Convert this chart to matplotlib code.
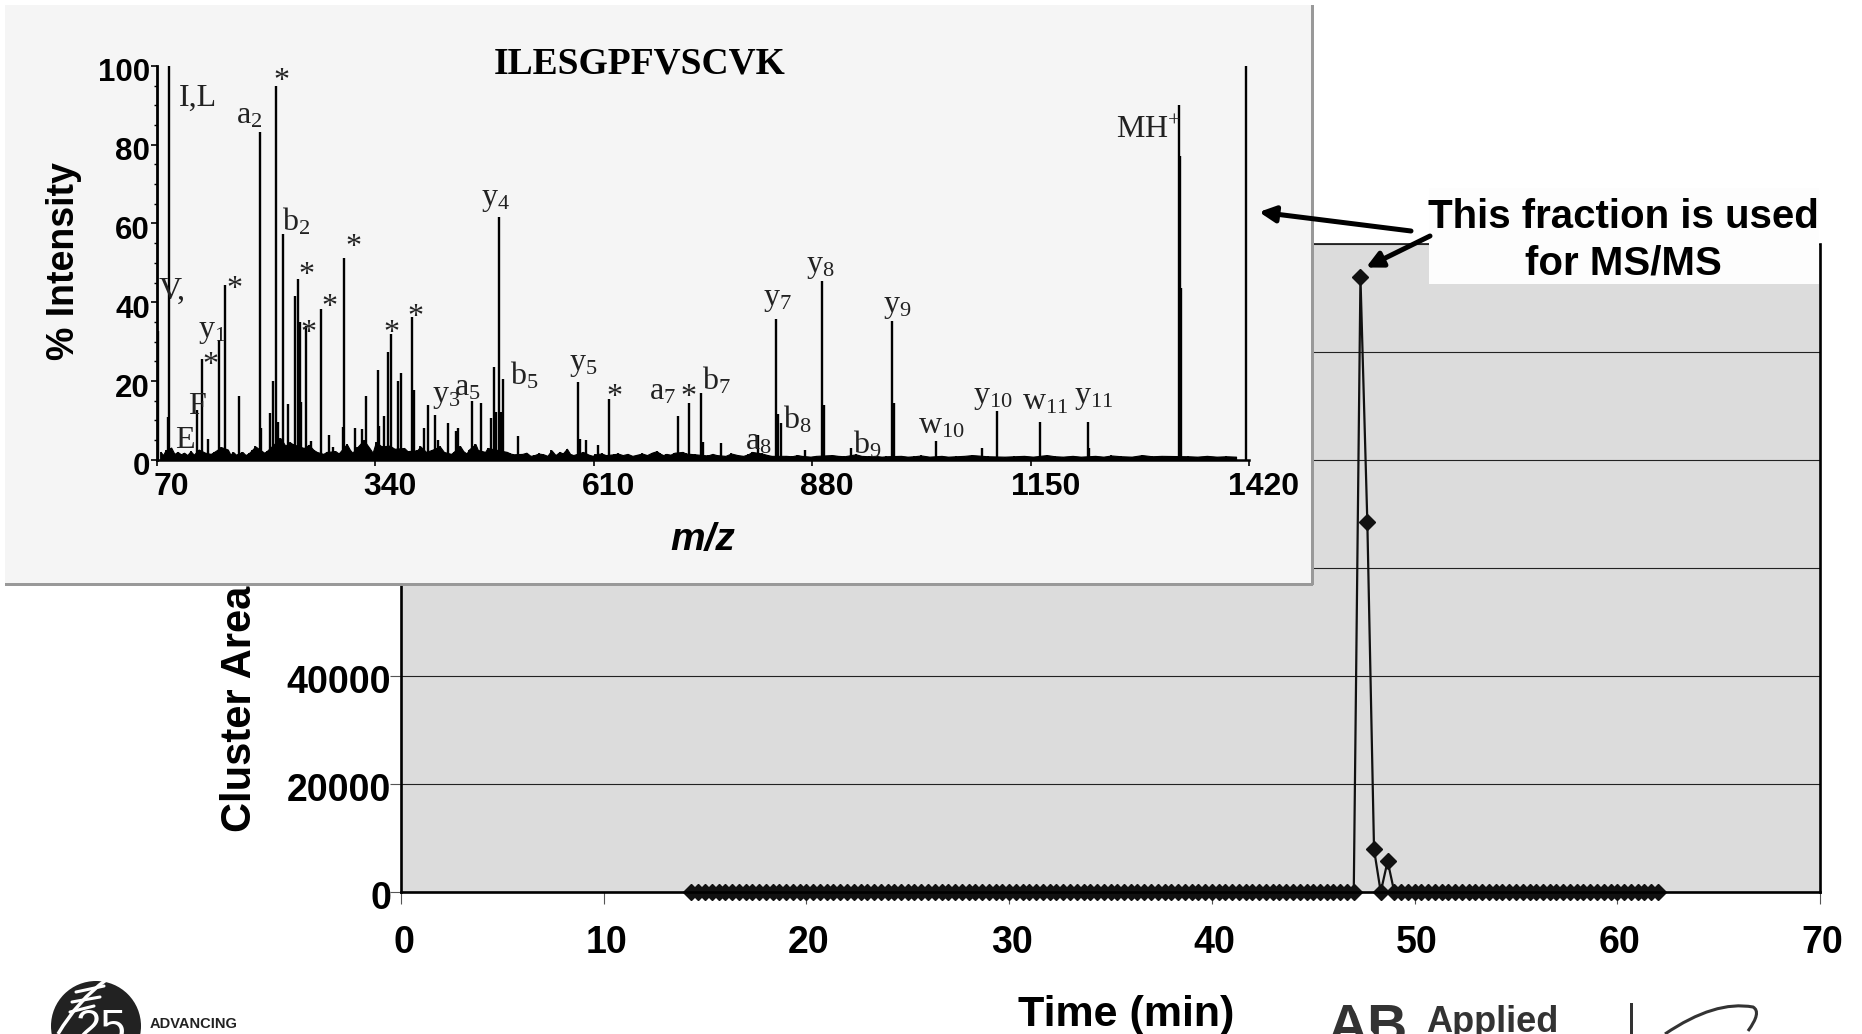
import matplotlib
matplotlib.use('Agg')
import matplotlib.pyplot as plt
from matplotlib.patches import Rectangle, Circle, FancyArrowPatch, PathPatch
from matplotlib.path import Path
from matplotlib.transforms import Affine2D, ScaledTranslation

plt.rcParams['font.family'] = ['Liberation Sans', 'DejaVu Sans']
plt.rcParams['mathtext.fontset'] = 'custom'
plt.rcParams['mathtext.rm'] = 'Liberation Serif'
plt.rcParams['mathtext.default'] = 'rm'

W, H = 1862, 1034

# main chart: cluster area against time
time_min = [14.33, 14.67, 15.0, 15.33, 15.67, 16.0, 16.33, 16.67, 17.0, 17.33, 17.67, 18.0,
            18.33, 18.67, 19.0, 19.33, 19.67, 20.0, 20.33, 20.67, 21.0, 21.33, 21.67, 22.0,
            22.33, 22.67, 23.0, 23.33, 23.67, 24.0, 24.33, 24.67, 25.0, 25.33, 25.67, 26.0,
            26.33, 26.67, 27.0, 27.33, 27.67, 28.0, 28.33, 28.67, 29.0, 29.33, 29.67, 30.0,
            30.33, 30.67, 31.0, 31.33, 31.67, 32.0, 32.33, 32.67, 33.0, 33.33, 33.67, 34.0,
            34.33, 34.67, 35.0, 35.33, 35.67, 36.0, 36.33, 36.67, 37.0, 37.33, 37.67, 38.0,
            38.33, 38.67, 39.0, 39.33, 39.67, 40.0, 40.33, 40.67, 41.0, 41.33, 41.67, 42.0,
            42.33, 42.67, 43.0, 43.33, 43.67, 44.0, 44.33, 44.67, 45.0, 45.33, 45.67, 46.0,
            46.33, 46.67, 47.0, 47.33, 47.67, 48.0, 48.33, 48.67, 49.0, 49.33, 49.67, 50.0,
            50.33, 50.67, 51.0, 51.33, 51.67, 52.0, 52.33, 52.67, 53.0, 53.33, 53.67, 54.0,
            54.33, 54.67, 55.0, 55.33, 55.67, 56.0, 56.33, 56.67, 57.0, 57.33, 57.67, 58.0,
            58.33, 58.67, 59.0, 59.33, 59.67, 60.0, 60.33, 60.67, 61.0, 61.33, 61.67, 62.0]
cluster_area = [0, 0, 0, 0, 0, 0, 0, 0, 0, 0, 0, 0,
                0, 0, 0, 0, 0, 0, 0, 0, 0, 0, 0, 0,
                0, 0, 0, 0, 0, 0, 0, 0, 0, 0, 0, 0,
                0, 0, 0, 0, 0, 0, 0, 0, 0, 0, 0, 0,
                0, 0, 0, 0, 0, 0, 0, 0, 0, 0, 0, 0,
                0, 0, 0, 0, 0, 0, 0, 0, 0, 0, 0, 0,
                0, 0, 0, 0, 0, 0, 0, 0, 0, 0, 0, 0,
                0, 0, 0, 0, 0, 0, 0, 0, 0, 0, 0, 0,
                0, 0, 0, 113750, 68400, 7900, 0, 5700, 0, 0, 0, 0,
                0, 0, 0, 0, 0, 0, 0, 0, 0, 0, 0, 0,
                0, 0, 0, 0, 0, 0, 0, 0, 0, 0, 0, 0,
                0, 0, 0, 0, 0, 0, 0, 0, 0, 0, 0, 0]
main_xticks = [0, 10, 20, 30, 40, 50, 60, 70]
main_yticks = [0, 20000, 40000, 60000, 80000, 100000, 120000]

# inset: MS/MS spectrum, main peaks
peak_mz = [71.5, 83.5, 85.6, 119.4, 126.7, 133, 146.5, 154.8, 172, 198, 199.5, 210, 213.5, 217.2,
           220.3, 226.5, 232.3, 241.6, 244.2, 246.8, 249, 255, 261.4, 272.8, 283.2, 288, 300.5, 301,
           315.5, 323.8, 329, 343.6, 344.5, 351.4, 355.5, 360.2, 368, 372.2, 386.2, 388.3, 400, 406,
           414.3, 417.4, 430, 440, 441.9, 460, 470.5, 483, 487, 489.2, 493.4, 495.5, 498.6, 516.8,
           591.1, 593.2, 600.5, 615, 629.1, 714.6, 728.5, 742.4, 745, 767, 813, 835.1, 837.8, 842.1,
           871, 892.5, 895.2, 928.4, 979.3, 981.4, 1033.4, 1089.7, 1109, 1161.5, 1221.5, 1222.6,
           1334, 1335, 1336.2, 1416.6]
peak_int = [32.7, 10.9, 100, 12.6, 25.5, 5.4, 30.3, 44.4, 16.1, 83.3, 8, 11.8, 20, 95,
            9.5, 57.3, 14.2, 41.5, 46, 35, 14.7, 34, 4.7, 38.4, 6.3, 3.2, 8.3, 51.2,
            8, 7.7, 16.1, 22.9, 8.5, 11.2, 27.4, 31.9, 20, 22, 36.2, 17.6, 8, 13.8,
            11.4, 5, 9.3, 7.4, 8, 14.8, 14.3, 10.5, 23.5, 12.1, 61.7, 12.1, 20.4, 6.1,
            19.7, 5.4, 5, 3.8, 15.5, 11.2, 14.5, 16.9, 4.5, 4.2, 6.4, 35.8, 11.7, 9.3,
            2.4, 45.4, 14, 2.9, 35.2, 14.5, 4.7, 2.9, 12.4, 9.5, 9.7, 3,
            90, 77, 43.6, 100]

# low level peaks along the baseline
grass_mz = [75, 78, 81, 88, 92, 96, 100, 104, 108, 112, 116, 122, 130, 137, 141, 150, 158, 161, 165,
            168, 176, 180, 184, 188, 192, 203, 206, 223, 229, 235, 238, 252, 258, 264, 268, 276,
            280, 291, 295, 305, 309, 312, 318, 326, 333, 337, 341, 348, 358, 364, 376, 380, 392,
            396, 403, 410, 420, 425, 434, 437, 445, 449, 453, 456, 464, 467, 476, 479, 503, 507,
            511, 522, 527, 532, 537, 542, 548, 553, 558, 563, 568, 572, 577, 581, 585, 597, 604,
            609, 612, 620, 625, 635, 640, 646, 652, 658, 664, 670, 676, 682, 688, 692, 696, 700,
            705, 710, 720, 724, 735, 751, 757, 762, 773, 780, 788, 795, 801, 806, 818, 825, 830,
            848, 855, 862, 867, 878, 885, 905, 912, 920, 934, 941, 950, 958, 966, 972, 990, 998,
            1006, 1015, 1025, 1040, 1048, 1058, 1068, 1078, 1097, 1118, 1130, 1142, 1153, 1170,
            1180, 1190, 1202, 1212, 1230, 1240, 1250, 1262, 1275, 1288, 1300, 1312, 1345, 1356,
            1368, 1380, 1392, 1404]
grass_int = [2.0, 1.2, 2.4, 3.1, 1.5, 2.0, 1.4, 1.8, 1.2, 2.2, 1.3, 2.6, 1.8, 1.5, 2.0, 3.2, 2.6, 1.4, 1.9,
             1.3, 2.0, 1.2, 1.7, 2.5, 3.4, 1.8, 2.2, 5.5, 3.6, 4.4, 4.0, 3.0, 3.8, 2.5, 2.0, 1.5,
             2.0, 2.2, 1.6, 4.0, 2.5, 1.8, 3.2, 5.0, 3.0, 1.8, 4.5, 3.4, 3.6, 2.8, 3.0, 2.2, 2.4,
             3.4, 2.0, 2.5, 3.4, 2.0, 1.5, 2.0, 3.5, 2.2, 1.6, 2.6, 4.0, 2.5, 2.0, 3.0, 2.0, 1.6,
             1.4, 1.5, 1.8, 1.0, 1.2, 1.6, 1.4, 1.0, 2.4, 1.2, 2.0, 1.6, 2.8, 1.5, 1.2, 2.0, 1.3,
             1.0, 1.4, 1.6, 1.2, 1.4, 1.6, 1.2, 1.5, 1.0, 1.3, 1.6, 1.2, 1.8, 2.2, 1.6, 1.2, 1.5,
             1.3, 1.8, 2.0, 1.6, 1.4, 1.1, 1.5, 1.2, 1.0, 1.6, 1.2, 1.0, 1.4, 2.0, 1.6, 1.2, 1.0,
             1.0, 0.9, 1.2, 1.0, 0.8, 1.0, 1.2, 1.0, 0.9, 1.4, 1.0, 0.9, 1.0, 0.8, 0.9, 1.0, 0.8,
             0.9, 1.1, 0.8, 1.0, 0.8, 0.9, 1.0, 1.2, 0.9, 0.8, 0.9, 1.0, 0.8, 1.2,
             0.9, 0.8, 1.0, 0.8, 1.0, 0.8, 1.1, 0.9, 0.8, 1.2, 0.9, 1.0, 0.9, 0.8,
             1.0, 0.8, 0.9, 0.8]
spec_xticks = [70, 340, 610, 880, 1150, 1420]
spec_yticks = [0, 20, 40, 60, 80, 100]
spec_yminor = [5, 10, 15, 25, 30, 35, 45, 50, 55, 65, 70, 75, 85, 90, 95]

# fragment labels with their place on the page (pixels)
frag_text = ['I,L', 'a$_{2}$', '*', 'b$_{2}$', '*', '*', '*', 'V,', 'y$_{1}$', '*', '*', '*', 'F', 'E',
             '*', '*', 'y$_{3}$', 'a$_{5}$', 'b$_{5}$', 'y$_{4}$', 'y$_{5}$', '*', 'a$_{7}$', '*',
             'b$_{7}$', 'y$_{7}$', 'y$_{8}$', 'y$_{9}$', 'b$_{8}$', 'a$_{8}$', 'b$_{9}$', 'w$_{10}$',
             'y$_{10}$', 'w$_{11}$', 'y$_{11}$', 'MH$^{+}$']
frag_x = [198, 249, 281, 296, 353, 306, 234, 172, 212, 329, 308, 210, 197, 185,
          391, 415, 446, 467, 524, 496, 583, 614, 663, 688,
          716, 777, 820, 897, 797, 758, 867, 941,
          993, 1045, 1094, 1149]
frag_y = [96, 113, 77, 219, 242, 271, 285, 289, 329, 302, 328, 360, 404, 438,
          328, 312, 394, 386, 373, 197, 362, 392, 390, 392,
          378, 297, 264, 304, 417, 439, 442, 423,
          395, 399, 395, 128]

px = Affine2D().scale(1, -1).translate(0, H)


def axes_at(left, top, right, bottom, **kw):
    return fig.add_axes([left / W, 1 - bottom / H, (right - left) / W, (bottom - top) / H], **kw)


fig = plt.figure(figsize=(W / 100, H / 100), dpi=100, facecolor='white')

# main chart
ax = axes_at(401, 243.5, 1820, 892, facecolor='#dcdcdc', zorder=1)
ax.set_xlim(0, 70)
ax.set_ylim(0, 120000)
ax.set_xticks(main_xticks)
ax.set_yticks(main_yticks)
ax.grid(axis='y', color='#222222', lw=0.8)
ax.set_axisbelow(True)
ax.plot(time_min, cluster_area, color='#111111', lw=1.6, marker='D', ms=8.5, clip_on=False, zorder=2)
ax.tick_params(axis='x', length=8.6, width=0.8, color='#555555', pad=15.5, labelsize=27)
ax.tick_params(axis='y', length=8, width=0.8, color='#555555', pad=0, labelsize=27)
for lab in ax.get_xticklabels():
    lab.set_fontweight('bold')
    lab.set_transform(lab.get_transform() + ScaledTranslation(0.025, 0, fig.dpi_scale_trans))
for lab in ax.get_yticklabels():
    lab.set_fontweight('bold')
    lab.set_transform(lab.get_transform() + ScaledTranslation(0.01, -0.03, fig.dpi_scale_trans))
for s in ['left', 'bottom', 'right']:
    ax.spines[s].set_linewidth(1.9)
ax.spines['top'].set_visible(False)
ax.hlines(120000, 0, 50.7, color='#222222', lw=1.3, clip_on=False)
ax.add_patch(Rectangle((1429, 188), 390, 95.5, transform=px, facecolor='#fdfdfd', edgecolor='none',
                       zorder=2.2, clip_on=False))

fig.text(1126, 1015, 'Time (min)', transform=px, ha='center', va='center', fontsize=31, fontweight='bold')
fig.text(240, 832, 'Cluster Area', transform=px, rotation=90, ha='center', va='bottom', fontsize=30,
         fontweight='bold', zorder=0.5)

# inset panel
fig.add_artist(Rectangle((5, 5), 1306, 578, transform=px, facecolor='#f5f5f5', edgecolor='none', zorder=2))
fig.add_artist(Rectangle((5, 583), 1308, 2.5, transform=px, facecolor='#999999', edgecolor='none', zorder=2))
fig.add_artist(Rectangle((1311, 5), 2.5, 580, transform=px, facecolor='#999999', edgecolor='none', zorder=2))

sp = axes_at(156.6, 65.8, 1249, 459.8, zorder=3)
sp.patch.set_alpha(0)
sp.set_xlim(70, 1420)
sp.set_ylim(0, 100)
sp.fill_between(grass_mz, 0, grass_int, color='black', lw=0.8)
sp.vlines(grass_mz, 0, grass_int, color='black', lw=1.3)
sp.vlines(peak_mz, 0, peak_int, color='black', lw=1.7)
sp.set_xticks(spec_xticks)
sp.set_yticks(spec_yticks)
sp.set_yticks(spec_yminor, minor=True)
sp.tick_params(axis='both', which='major', length=4, width=1.2, labelsize=23)
sp.tick_params(axis='y', which='major', pad=0.7, labelsize=22.5)
sp.tick_params(axis='x', which='major', pad=5)
sp.tick_params(axis='y', which='minor', length=2.5, width=1)
for lab in sp.get_xticklabels():
    lab.set_fontweight('bold')
    lab.set_transform(lab.get_transform() + ScaledTranslation(0.15, 0, fig.dpi_scale_trans))
for lab in sp.get_yticklabels():
    lab.set_fontweight('bold')
    lab.set_transform(lab.get_transform() + ScaledTranslation(0, -0.04, fig.dpi_scale_trans))
sp.spines['top'].set_visible(False)
sp.spines['right'].set_visible(False)
sp.spines['left'].set_linewidth(2)
sp.spines['bottom'].set_linewidth(1.8)

fig.text(64, 261, '% Intensity', transform=px, rotation=90, ha='center', va='center', fontsize=27,
         fontweight='bold', zorder=4)
fig.text(703, 540, 'm/z', transform=px, ha='center', va='center', fontsize=28, fontweight='bold',
         style='italic', zorder=4)
fig.text(640, 64, 'ILESGPFVSCVK', transform=px, ha='center', va='center', fontsize=27, fontweight='bold',
         family='Liberation Serif', zorder=4)
for t, x, y in zip(frag_text, frag_x, frag_y):
    shift = 5 if t == '*' else 2.5
    fig.text(x, y + shift, t, transform=px, ha='center', va='center', fontsize=23, family='Liberation Serif',
             color='#222222', zorder=4)

# callout
fig.text(1623, 216.5, 'This fraction is used', transform=px, ha='center', va='center', fontsize=29,
         fontweight='bold', zorder=5)
fig.text(1623, 263.5, 'for MS/MS', transform=px, ha='center', va='center', fontsize=29, fontweight='bold', zorder=5)
for a, b in [((1411, 231), (1259, 212)), ((1430, 236), (1366, 267.5))]:
    fig.add_artist(FancyArrowPatch(a, b, transform=px, arrowstyle='-|>', mutation_scale=24, lw=3.6,
                                   color='black', shrinkA=0, shrinkB=0, zorder=5))

# logos at the foot of the page
fig.add_artist(Circle((96, 1026), 45, transform=px, facecolor='#222222', edgecolor='none', zorder=5))
strand = Path([(58, 1034), (78, 1000), (106, 980)], [Path.MOVETO, Path.CURVE3, Path.CURVE3])
fig.add_artist(PathPatch(strand, transform=px, facecolor='none', edgecolor='white', lw=2.5, zorder=5.5))
for a, b in [((76, 992), (104, 986)), ((72, 1002), (100, 997)), ((70, 1012), (94, 1006))]:
    fig.add_artist(FancyArrowPatch(a, b, transform=px, arrowstyle='-', lw=2.2, color='white',
                                   shrinkA=0, shrinkB=0, zorder=5.5))
fig.text(101, 1030, '25', transform=px, ha='center', va='center', fontsize=33, color='white', zorder=6)
fig.text(150, 1024, 'ADVANCING', transform=px, ha='left', va='center', fontsize=10.5, fontweight='bold',
         color='#222222', zorder=6)
fig.text(1328, 1043, 'AB', transform=px, ha='left', va='baseline', fontsize=40, fontweight='bold',
         color='#333333', zorder=6)
twist = Path([(1352, 1003), (1362, 1025), (1378, 1040)], [Path.MOVETO, Path.CURVE3, Path.CURVE3])
fig.add_artist(PathPatch(twist, transform=px, facecolor='none', edgecolor='white', lw=2, zorder=6.5))
fig.text(1426, 1032, 'Applied', transform=px, ha='left', va='baseline', fontsize=26, fontweight='bold',
         color='#333333', zorder=6)
fig.add_artist(Rectangle((1630, 1003), 2.5, 31, transform=px, facecolor='#333333', edgecolor='none', zorder=6))
swoosh = Path([(1665, 1034), (1715, 1000), (1753, 1007), (1762, 1012), (1748, 1031)],
              [Path.MOVETO, Path.CURVE3, Path.CURVE3, Path.CURVE3, Path.CURVE3])
fig.add_artist(PathPatch(swoosh, transform=px, facecolor='none', edgecolor='#333333', lw=2.2, zorder=6))

fig.savefig('out.png', dpi=100)
